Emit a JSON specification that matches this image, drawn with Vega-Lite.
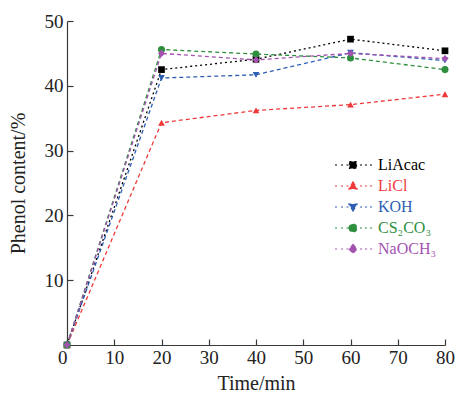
{
  "$schema": "https://vega.github.io/schema/vega-lite/v6.json",
  "width": 378,
  "height": 324,
  "autosize": {"type": "none"},
  "padding": {"left": 67, "top": 21, "right": 13, "bottom": 48},
  "background": "white",
  "config": {
    "view": {"stroke": null},
    "font": "Liberation Serif",
    "axis": {
      "domainColor": "#3a3a3a",
      "tickColor": "#3a3a3a",
      "domainWidth": 1.2,
      "tickWidth": 1.2,
      "tickSize": -6,
      "labelFont": "Liberation Serif",
      "labelFontSize": 19,
      "labelColor": "#222222",
      "titleFont": "Liberation Serif",
      "titleFontSize": 20,
      "titleFontWeight": "normal",
      "titleColor": "#222222",
      "grid": false
    }
  },
  "data": {
    "values": [
      {"t": 0, "v": 0, "s": "LiAcac"},
      {"t": 20, "v": 42.5, "s": "LiAcac"},
      {"t": 40, "v": 44.1, "s": "LiAcac"},
      {"t": 60, "v": 47.2, "s": "LiAcac"},
      {"t": 80, "v": 45.4, "s": "LiAcac"},
      {"t": 0, "v": 0, "s": "LiCl"},
      {"t": 20, "v": 34.3, "s": "LiCl"},
      {"t": 40, "v": 36.2, "s": "LiCl"},
      {"t": 60, "v": 37.1, "s": "LiCl"},
      {"t": 80, "v": 38.7, "s": "LiCl"},
      {"t": 0, "v": 0, "s": "KOH"},
      {"t": 20, "v": 41.2, "s": "KOH"},
      {"t": 40, "v": 41.7, "s": "KOH"},
      {"t": 60, "v": 45.1, "s": "KOH"},
      {"t": 80, "v": 43.9, "s": "KOH"},
      {"t": 0, "v": 0, "s": "CS₂CO₃"},
      {"t": 20, "v": 45.6, "s": "CS₂CO₃"},
      {"t": 40, "v": 44.9, "s": "CS₂CO₃"},
      {"t": 60, "v": 44.3, "s": "CS₂CO₃"},
      {"t": 80, "v": 42.5, "s": "CS₂CO₃"},
      {"t": 0, "v": 0, "s": "NaOCH₃"},
      {"t": 20, "v": 45.0, "s": "NaOCH₃"},
      {"t": 40, "v": 44.0, "s": "NaOCH₃"},
      {"t": 60, "v": 45.0, "s": "NaOCH₃"},
      {"t": 80, "v": 44.2, "s": "NaOCH₃"}
    ]
  },
  "encoding": {
    "x": {
      "field": "t",
      "type": "quantitative",
      "scale": {"domain": [0, 80], "nice": false, "zero": false},
      "axis": {
        "title": "Time/min",
        "values": [0, 10, 20, 30, 40, 50, 60, 70, 80],
        "labelAlign": {"expr": "datum.value == 0 ? 'right' : 'center'"},
        "labelPadding": 9,
        "titlePadding": 6
      }
    },
    "y": {
      "field": "v",
      "type": "quantitative",
      "scale": {"domain": [0, 50], "nice": false},
      "axis": {
        "title": "Phenol content/%",
        "values": [10, 20, 30, 40, 50],
        "labelPadding": 10,
        "titlePadding": 16
      }
    },
    "color": {
      "field": "s",
      "type": "nominal",
      "scale": {
        "domain": ["LiAcac", "LiCl", "KOH", "CS₂CO₃", "NaOCH₃"],
        "range": ["#000000", "#f03a3a", "#2e5fb2", "#2e8f3e", "#a452b0"]
      },
      "legend": {
        "orient": "none",
        "legendX": 278,
        "legendY": 136,
        "title": null,
        "padding": 0,
        "labelFont": "Liberation Serif",
        "labelFontSize": 16,
        "symbolSize": 4,
        "labelOffset": 17,
        "rowPadding": 5,
        "encode": {
          "symbols": {
            "update": {
              "shape": {"signal": "datum.value === 'LiAcac' ? 'M-18,0h2M-12,0h2M-6.5,0h2M-3.5,-3.5h7v7h-7ZM7,0h2M12,0h2M17,0h2' : datum.value === 'LiCl' ? 'M-18,0h2M-12,0h2M-6.5,0h2M0,-4L4.2,3L-4.2,3ZM7,0h2M12,0h2M17,0h2' : datum.value === 'KOH' ? 'M-18,0h2M-12,0h2M-6.5,0h2M0,4L4.2,-3L-4.2,-3ZM7,0h2M12,0h2M17,0h2' : datum.value === 'NaOCH₃' ? 'M-18,0h2M-12,0h2M-6.5,0h2M0,-4.5L4,0L0,4.5L-4,0ZM7,0h2M12,0h2M17,0h2' : 'M-18,0h2M-12,0h2M-6.5,0h2M-4,0A4,4,0,1,0,4,0A4,4,0,1,0,-4,0ZM7,0h2M12,0h2M17,0h2'"},
              "size": {"value": 4},
              "fill": {"scale": "color", "field": "value"},
              "stroke": {"scale": "color", "field": "value"},
              "strokeWidth": {"value": 1.2},
              "strokeDash": {"value": []},
              "opacity": {"value": 1}
            }
          },
          "labels": {
            "update": {
              "fill": {"scale": "color", "field": "value"}
            }
          }
        }
      }
    }
  },
  "layer": [
    {
      "mark": {"type": "line", "strokeWidth": 1.3},
      "encoding": {
        "strokeDash": {
          "field": "s",
          "type": "nominal",
          "scale": {
            "domain": ["LiAcac", "LiCl", "KOH", "CS₂CO₃", "NaOCH₃"],
            "range": [[2, 3], [4, 3], [4, 3], [4, 3], [4, 3]]
          },
          "legend": null
        }
      }
    },
    {
      "transform": [{"filter": "datum.s === 'LiAcac'"}],
      "mark": {"type": "point", "filled": true, "opacity": 1, "size": 45, "shape": "square"}
    },
    {
      "transform": [{"filter": "datum.s === 'LiCl'"}],
      "mark": {"type": "point", "filled": true, "opacity": 1, "size": 45, "shape": "triangle-up"}
    },
    {
      "transform": [{"filter": "datum.s === 'KOH'"}],
      "mark": {"type": "point", "filled": true, "opacity": 1, "size": 45, "shape": "triangle-down"}
    },
    {
      "transform": [{"filter": "datum.s === 'CS₂CO₃'"}],
      "mark": {"type": "point", "filled": true, "opacity": 1, "size": 50, "shape": "circle"}
    },
    {
      "transform": [{"filter": "datum.s === 'NaOCH₃'"}],
      "mark": {"type": "point", "filled": true, "opacity": 1, "size": 50, "shape": "diamond"}
    }
  ]
}
